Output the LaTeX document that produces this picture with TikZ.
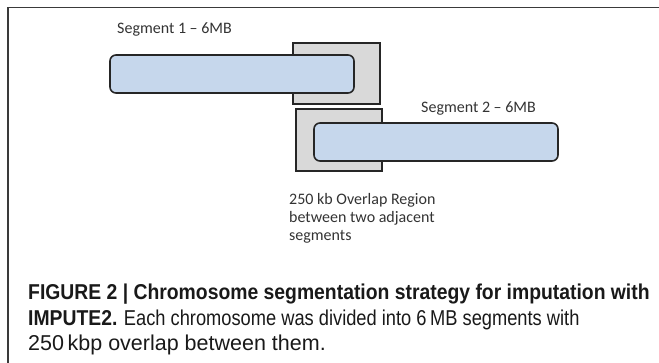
\documentclass[tikz,border=0pt]{standalone}
\usepackage{fontspec}
\setmainfont{Carlito}
\newfontfamily\capfont[FakeStretch=0.9]{Liberation Sans}
\newfontfamily\capfontb[FakeStretch=0.85]{Liberation Sans}
\newfontfamily\capfontc[FakeStretch=1.0]{Liberation Sans}
\definecolor{segblue}{HTML}{C6D7EC}
\definecolor{ovgray}{HTML}{D9D9D9}
\definecolor{edge}{HTML}{262626}
\definecolor{framecol}{HTML}{3A3A3A}
\begin{document}
\begin{tikzpicture}[x=1pt,y=-1pt,
  overlapbox/.style={draw=edge, fill=ovgray, line width=1.2pt, inner sep=0pt},
  segbox/.style={draw=edge, fill=segblue, line width=1.6pt, rounded corners=6pt, inner sep=0pt, minimum width=244pt, minimum height=38pt},
  seglabel/.style={font=\fontsize{16}{18}\selectfont, text=black!80, inner sep=0pt},
  captext/.style={anchor=base west, inner sep=0pt, text=black!90}]
\useasboundingbox (0,0) rectangle (659,363);
% open frame
\coordinate (ftl) at (8,7.5);
\coordinate (ftr) at (659,7.5);
\coordinate (fbl) at (8,363);
\draw[framecol, line width=1.4pt] (fbl) -- (ftl) -- (ftr);
% overlap regions
\node[overlapbox, minimum width=87pt, minimum height=61pt] (g1) at (336.5,73.5) {};
\node[overlapbox, minimum width=86pt, minimum height=62pt] (g2) at (339,140) {};
% segments
\node[segbox] (s1) at (232,74) {};
\node[segbox] (s2) at (436,142) {};
% labels
\node[seglabel, anchor=base west] (l1) at (117,34) {Segment 1 – 6MB};
\node[seglabel, anchor=base west] (l2) at (421,113) {Segment 2 – 6MB};
\node[seglabel, anchor=base west, align=left] (lo) at (289,241) {250 kb Overlap Region\\between two adjacent\\segments};
% caption
\node[captext, font=\capfont\fontsize{21.5}{25.5}\selectfont] (cap1) at (28,300) {\textbf{FIGURE 2 | Chromosome segmentation strategy for imputation with}};
\node[captext, font=\fontsize{21.5}{25.5}\selectfont] (cap2) at (28,325.5) {{\capfont\textbf{IMPUTE2.}} {\capfontb Each chromosome was divided into 6\,MB segments with}};
\node[captext, font=\capfontc\fontsize{21.5}{25.5}\selectfont] (cap3) at (28,351) {250\,kbp overlap between them.};
\end{tikzpicture}
\end{document}
